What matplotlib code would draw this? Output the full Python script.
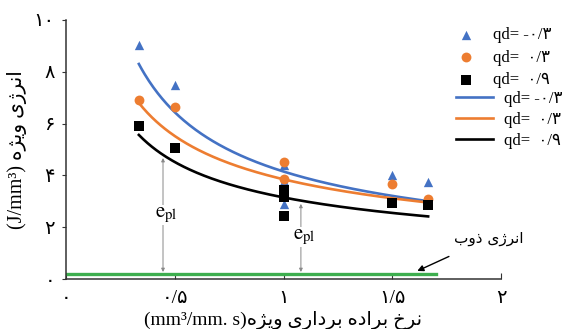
import numpy as np
import matplotlib
matplotlib.use("Agg")
import matplotlib.pyplot as plt

# scatter data (specific removal rate, specific energy)
x_neg03 = [0.335, 0.5, 1.0, 1.0, 1.0, 1.5, 1.665]
y_neg03 = [9.03, 7.5, 4.4, 3.8, 2.9, 4.0, 3.75]
x_pos03 = [0.335, 0.5, 1.0, 1.0, 1.5, 1.665]
y_pos03 = [6.9, 6.64, 4.5, 3.86, 3.67, 3.1]
x_pos09 = [0.335, 0.5, 1.0, 1.0, 1.0, 1.5, 1.665]
y_pos09 = [5.9, 5.05, 3.45, 3.15, 2.45, 2.93, 2.85]

# power trendlines  e = a * x^b
fit_a = [4.15, 3.85, 3.15]
fit_b = [-0.634, -0.52, -0.52]
fit_range = [0.335, 1.665]

melt_energy = 0.2
melt_range = [0.0, 1.7]

x_ticks = [0, 0.5, 1, 1.5, 2]
x_tick_labels = ["۰", "۰/۵", "۱", "۱/۵", "۲"]
y_ticks = [0, 2, 4, 6, 8, 10]
y_tick_labels = ["۰", "۲", "۴", "۶", "۸", "۱۰"]

labels = ["qd= -۰/۳", "qd=  ۰/۳", "qd=  ۰/۹"]
colors = ["#4472C4", "#ED7D31", "black"]

# minimal persian shaping (presentation forms), matplotlib has no bidi
FORMS = {
    "ا": ("\uFE8D", "\uFE8E", None, None),
    "ب": ("\uFE8F", "\uFE90", "\uFE91", "\uFE92"),
    "خ": ("\uFEA5", "\uFEA6", "\uFEA7", "\uFEA8"),
    "د": ("\uFEA9", "\uFEAA", None, None),
    "ذ": ("\uFEAB", "\uFEAC", None, None),
    "ر": ("\uFEAD", "\uFEAE", None, None),
    "ژ": ("\uFB8A", "\uFB8B", None, None),
    "ن": ("\uFEE5", "\uFEE6", "\uFEE7", "\uFEE8"),
    "ه": ("\uFEE9", "\uFEEA", "\uFEEB", "\uFEEC"),
    "و": ("\uFEED", "\uFEEE", None, None),
    "ی": ("\uFBFC", "\uFBFD", "\uFBFE", "\uFBFF"),
}


def fa(text):
    out = []
    for i, c in enumerate(text):
        if c not in FORMS:
            out.append(c)
            continue
        prev = text[i - 1] if i > 0 else None
        nxt = text[i + 1] if i + 1 < len(text) else None
        jp = prev in FORMS and FORMS[prev][2] is not None
        jn = nxt in FORMS and FORMS[c][2] is not None
        f = FORMS[c]
        if jp and jn:
            out.append(f[3])
        elif jp:
            out.append(f[1])
        elif jn:
            out.append(f[2])
        else:
            out.append(f[0])
    return "".join(reversed(out))


plt.rcParams["font.family"] = ["Liberation Serif", "DejaVu Sans"]
plt.rcParams["mathtext.fontset"] = "stix"

fig = plt.figure(figsize=(5.63, 3.29), dpi=100)
ax = fig.add_axes([66 / 563, 50 / 329, 435 / 563, 259 / 329])

ax.plot(melt_range, [melt_energy, melt_energy], color="#3DAE4E", lw=2.4, zorder=2)

xs = np.linspace(fit_range[0], fit_range[1], 200)
line_handles = []
for a, b, c, lab in zip(fit_a, fit_b, colors, labels):
    h, = ax.plot(xs, a * xs ** b, color=c, lw=1.9, zorder=3, label=lab)
    line_handles.append(h)

s1 = ax.scatter(x_neg03, y_neg03, marker="^", s=45, color=colors[0], zorder=4, label=labels[0], linewidths=0)
s2 = ax.scatter(x_pos03, y_pos03, marker="o", s=50, color=colors[1], zorder=5, label=labels[1], linewidths=0)
s3 = ax.scatter(x_pos09, y_pos09, marker="s", s=50, color=colors[2], zorder=6, label=labels[2], linewidths=0)

# e_pl arrows
for xa, ytop, yt in [(0.446, 4.67, 2.47), (1.08, 2.9, 1.62)]:
    ax.annotate("", xy=(xa, 0.27), xytext=(xa, ytop),
                arrowprops=dict(arrowstyle="<|-|>", color="#888888", lw=0.7,
                                mutation_scale=5, shrinkA=0, shrinkB=0), zorder=1)
    ax.text(xa + 0.015, yt, r"$\mathrm{e}_{\mathrm{pl}}$", fontsize=15, ha="center", va="center",
            bbox=dict(facecolor="white", edgecolor="none", pad=0.5), zorder=2)

ax.annotate(fa("انرژی ذوب"), xy=(1.615, 0.31), xytext=(1.945, 1.58),
            fontsize=11, family="DejaVu Sans", ha="center", va="center",
            arrowprops=dict(arrowstyle="-|>", color="black", lw=1.0, mutation_scale=9,
                            shrinkA=14, shrinkB=0))

ax.set_xlim(0, 2)
ax.set_ylim(0, 10)
ax.set_xticks(x_ticks)
ax.set_xticklabels(x_tick_labels, fontsize=14)
ax.set_yticks(y_ticks)
ax.set_yticklabels(y_tick_labels, fontsize=14)
ax.tick_params(axis="x", direction="in", length=4, pad=8, color="#333333")
ax.tick_params(axis="y", direction="out", length=3, pad=5, color="#333333")
for side in ["top", "right"]:
    ax.spines[side].set_visible(False)
for side in ["left", "bottom"]:
    ax.spines[side].set_color("#333333")
    ax.spines[side].set_linewidth(1.1)

ax.set_xlabel("(mm³/mm. s)" + fa("نرخ براده برداری ویژه"), fontsize=14, labelpad=3)
ax.set_ylabel("(J/mm³) " + fa("انرژی ویژه"), fontsize=14.5, labelpad=5)

leg1 = ax.legend(handles=[s1, s2, s3], loc="upper left", bbox_to_anchor=(458 / 563, 1 - 27 / 329),
                 bbox_transform=fig.transFigure, frameon=False, fontsize=12, handlelength=1.0,
                 handletextpad=1.1, labelspacing=0.4, borderpad=0, borderaxespad=0)
ax.add_artist(leg1)
ax.legend(handles=line_handles, loc="upper left", bbox_to_anchor=(456 / 563, 1 - 91 / 329),
          bbox_transform=fig.transFigure, frameon=False, fontsize=12, handlelength=2.2,
          handletextpad=0.7, labelspacing=0.3, borderpad=0, borderaxespad=0)

fig.savefig("out.png", dpi=100)
